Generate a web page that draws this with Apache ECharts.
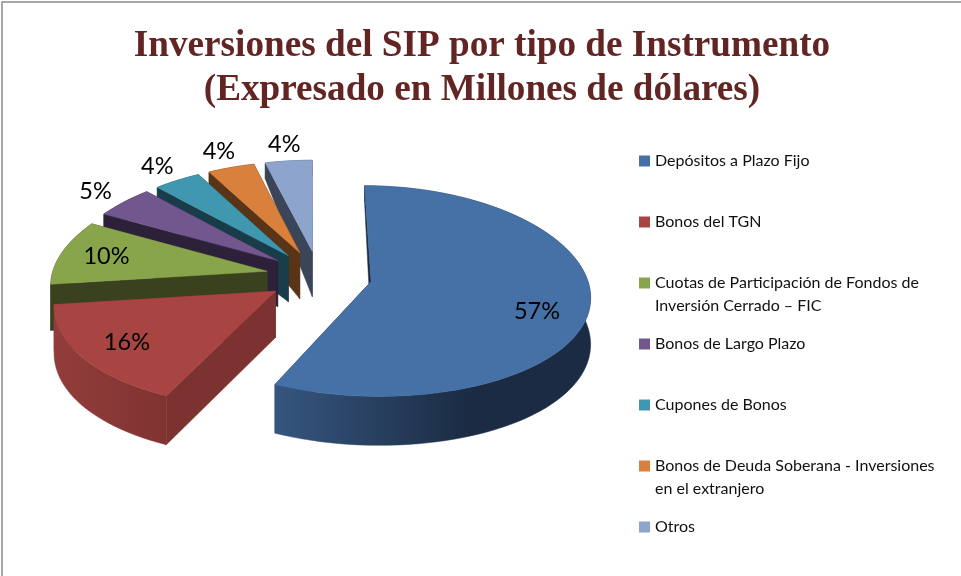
<!DOCTYPE html>
<html><head><meta charset="utf-8">
<style>html,body{margin:0;padding:0;background:#fff}#c{width:961px;height:576px}</style>
<script src="https://cdn.jsdelivr.net/npm/echarts@6/dist/echarts.min.js"></script>
</head><body><div id="c"></div>
<script>
const titleLines = ['Inversiones del SIP por tipo de Instrumento', '(Expresado en Millones de dólares)'];
const categories = ['Depósitos a Plazo Fijo', 'Bonos del TGN', 'Cuotas de Participación de Fondos de Inversión Cerrado – FIC', 'Bonos de Largo Plazo', 'Cupones de Bonos', 'Bonos de Deuda Soberana - Inversiones en el extranjero', 'Otros'];
const legendLines = [['Depósitos a Plazo Fijo'], ['Bonos del TGN'], ['Cuotas de Participación de Fondos de', 'Inversión Cerrado – FIC'], ['Bonos de Largo Plazo'], ['Cupones de Bonos'], ['Bonos de Deuda Soberana - Inversiones', 'en el extranjero'], ['Otros']];
const percents = [57, 16, 10, 5, 4, 4, 4];
const topColors = ['#4571a6', '#a84442', '#88a54b', '#72578f', '#4097b0', '#d9803d', '#8da5cd'];
const faceColors = ['#1b2d45', '#7b3230', '#3a411e', '#2c2139', '#193c49', '#5a3416', '#3b4559'];
const wallLeft = ['#36567f', '#923d3b', '#3a411e', '#2c2139', '#193c49', '#5a3416', '#3b4559'];
const wallRight = ['#1a2b43', '#7f3331', '#3a411e', '#2c2139', '#193c49', '#5a3416', '#3b4559'];

const R = 215.5, EXPLODE = 53, OX = 319, OY = 276, K = 0.48, VX = 310, DX = 1800, DY = 2400;
function depth(gy) {
  if (gy <= -190) return 16;
  if (gy < -50) return 16 + (gy + 190) / 140 * 30;
  return 46 + Math.min(3, Math.max(0, gy) / 230 * 3);
}
function project(gx, gy, down) {
  const sx = 1 / (1 - gy / DX), sy = 1 / (1 - gy / DY);
  return [VX + (OX + gx - VX) * sx, OY + K * gy * sy + (down ? depth(gy) : 0)];
}
const total = percents.reduce((a, b) => a + b, 0);
const starts = []; let acc = 0;
percents.forEach(v => { starts.push(acc / total * 2 * Math.PI); acc += v; });

function renderSlice(i, api) {
  const v = api.value(0);
  const a0 = starts[i], a1 = a0 + v / total * 2 * Math.PI, mid = (a0 + a1) / 2;
  const ax = EXPLODE * Math.sin(mid), ay = -EXPLODE * Math.cos(mid);
  const rim = [], n = Math.max(4, Math.ceil((a1 - a0) / 0.04));
  for (let k = 0; k <= n; k++) {
    const t = a0 + (a1 - a0) * k / n;
    rim.push([ax + R * Math.sin(t), ay - R * Math.cos(t)]);
  }
  const apexT = project(ax, ay, false), apexB = project(ax, ay, true);
  const rimT = rim.map(p => project(p[0], p[1], false));
  const rimB = rim.map(p => project(p[0], p[1], true));
  const base = (7 - i) * 10;
  const poly = (points, fill, z) => ({ type: 'polygon', z2: base + z, shape: { points }, style: { fill, stroke: fill, lineWidth: 0.5 } });
  const wallGrad = { type: 'linear', x: 0, y: 0, x2: 1, y2: 0, colorStops: [{ offset: 0, color: wallLeft[i] }, { offset: i === 0 ? 0.62 : 1, color: wallRight[i] }, { offset: 1, color: wallRight[i] }] };
  const children = [
    poly([apexT, rimT[n], rimB[n], apexB], faceColors[i], 0),
    poly([apexT, rimT[0], rimB[0], apexB], faceColors[i], 1),
    poly(rimT.concat(rimB.slice().reverse()), wallGrad, 2),
    poly([apexT].concat(rimT), topColors[i], 3)
  ];
  const inside = v >= 10;
  const lr = inside ? R * 0.78 : R * 1.2;
  const la = mid + (v > 50 ? 0.14 : 0);
  const lp = project(ax + lr * Math.sin(la), ay - lr * Math.cos(la), false);
  children.push({ type: 'text', z2: 200, style: { text: v + '%', x: lp[0], y: lp[1], fill: '#000', font: '23.5px Lato', align: 'center', verticalAlign: 'middle' } });
  return { type: 'group', children };
}

const LEGEND_TOP = 161, LEGEND_PITCH = 61, LINE = 23;
const legends = categories.map((name, i) => {
  const lines = legendLines[i];
  const h = lines.length > 1 ? LINE * 3 : LINE;
  return {
    data: [name], orient: 'vertical', left: 639, top: LEGEND_TOP + LEGEND_PITCH * i - h / 2, padding: 0,
    icon: 'rect', itemWidth: 11, itemHeight: 11, selectedMode: false,
    textStyle: { fontFamily: 'Lato', fontSize: 16, color: '#111', lineHeight: LINE },
    formatter: () => (lines.length > 1 ? '\n' : '') + lines.join('\n')
  };
});

const chart = echarts.init(document.getElementById('c'), null, { renderer: 'canvas' });
chart.setOption({
  animation: false,
  backgroundColor: '#fff',
  title: {
    text: titleLines.join('\n'), left: 477, top: 19, textAlign: 'center',
    textStyle: { fontFamily: 'Liberation Serif', fontWeight: 'bold', fontSize: 37.2, lineHeight: 44.5, color: '#632523' }
  },
  legend: legends,
  graphic: [{ type: 'rect', silent: true, shape: { x: 2, y: 2, width: 1200, height: 900 }, style: { fill: 'none', stroke: '#8a8a8a', lineWidth: 1.5 } }],
  series: categories.map((name, i) => ({
    type: 'custom', name, coordinateSystem: 'none', z: 7 - i, silent: true, clip: false,
    itemStyle: { color: topColors[i] },
    data: [[percents[i]]],
    renderItem: (params, api) => renderSlice(i, api)
  }))
});
</script></body></html>
